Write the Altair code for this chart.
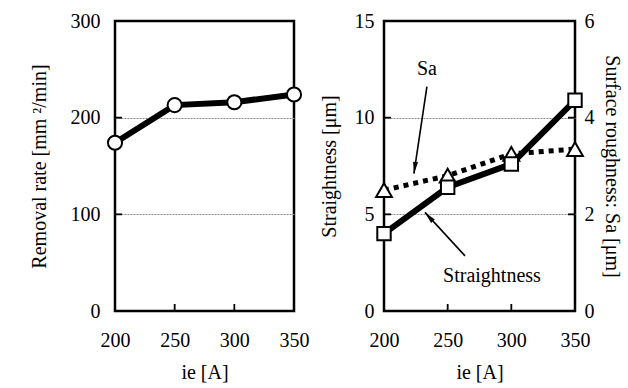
import altair as alt
import pandas as pd

# ---- data ----
ie = [200, 250, 300, 350]
removal_rate = [174, 213, 216, 224]
straightness = [4.0, 6.4, 7.6, 10.9]
sa = [2.5, 2.8, 3.25, 3.35]

ann_text = ["Sa", "Straightness"]
ann_x = [233.7, 284.8]
ann_y = [12.5, 1.8]

arrow_x = [233.7, 263.6]
arrow_y = [11.6, 2.85]
arrow_x2 = [223.5, 232.2]
arrow_y2 = [7.1, 5.1]
arrow_angle = [188, 318]

# inner (inward) tick positions
x_inner_ticks = [250, 300]
rate_inner_ticks = [100, 200]
st_inner_ticks = [5, 10]
sa_inner_ticks = [2, 4]

FONT = "Liberation Serif"
ARROW = "M0,0L0.34,1.6L-0.34,1.6Z"
TICK = 7
W_L, W_R, H = 179, 191, 290

grid_op = {"condition": {"test": "datum.value == 0 || datum.value == 300 || datum.value == 15", "value": 0}, "value": 1}

xscale = alt.Scale(domain=[200, 350], nice=False, zero=False)


def xaxis():
    return alt.Axis(values=ie, title="ie [A]", grid=False, tickSize=0, labelPadding=19,
                    titlePadding=12, domain=False, labelFlush=False)


def xticks():
    d = pd.DataFrame({"v": x_inner_ticks})
    return alt.Chart(d).mark_rule(color="black", strokeWidth=1.8).encode(
        x=alt.X("v:Q", scale=xscale), y=alt.value(H), y2=alt.value(H - TICK))


def yticks(vals, scale, side, width):
    d = pd.DataFrame({"v": vals})
    if side == "left":
        xs = dict(x=alt.value(0), x2=alt.value(TICK))
    else:
        xs = dict(x=alt.value(width), x2=alt.value(width - TICK))
    return alt.Chart(d).mark_rule(color="black", strokeWidth=1.8).encode(
        y=alt.Y("v:Q", scale=scale), **xs)


# ---- left panel ----
df_l = pd.DataFrame({"ie": ie, "rate": removal_rate})
yrate = alt.Scale(domain=[0, 300], nice=False)
base_l = alt.Chart(df_l).encode(
    x=alt.X("ie:Q", scale=xscale, axis=xaxis()),
    y=alt.Y("rate:Q", scale=yrate,
            axis=alt.Axis(values=[0, 100, 200, 300], title="Removal rate  [mm ²/min]",
                          grid=True, gridDash=[2, 1], gridColor="#8a8a8a", gridWidth=1.2,
                          gridOpacity=grid_op, tickSize=0, domain=False, labelFlush=False,
                          labelPadding=15, titlePadding=21)),
)
left = alt.layer(
    base_l.mark_line(color="black", strokeWidth=6),
    xticks(),
    yticks(rate_inner_ticks, yrate, "left", W_L),
    base_l.mark_point(shape="circle", size=200, filled=True, fill="white", stroke="black",
                      strokeWidth=2, opacity=1),
).properties(width=W_L, height=H)

# ---- right panel ----
df_r = pd.DataFrame({"ie": ie, "st": straightness, "sa": sa})
df_ann = pd.DataFrame({"x": ann_x, "y": ann_y, "t": ann_text})
df_arr = pd.DataFrame({"x": arrow_x, "y": arrow_y, "x2": arrow_x2, "y2": arrow_y2, "a": arrow_angle})

yst = alt.Scale(domain=[0, 15], nice=False)
ysa = alt.Scale(domain=[0, 6], nice=False)
base_s = alt.Chart(df_r).encode(
    x=alt.X("ie:Q", scale=xscale, axis=xaxis()),
    y=alt.Y("st:Q", scale=yst,
            axis=alt.Axis(orient="left", values=[0, 5, 10, 15], title="Straightness  [μm]",
                          grid=True, gridDash=[2, 1], gridColor="#8a8a8a", gridWidth=1.2,
                          gridOpacity=grid_op, tickSize=0, domain=False, labelFlush=False,
                          labelPadding=10, titlePadding=15)),
)
ann = alt.Chart(df_ann).mark_text(font=FONT, fontSize=20, color="black").encode(
    x=alt.X("x:Q", scale=xscale), y=alt.Y("y:Q", scale=yst), text="t:N")
arrows = alt.Chart(df_arr).mark_rule(color="black", strokeWidth=1.6).encode(
    x=alt.X("x:Q", scale=xscale), y=alt.Y("y:Q", scale=yst), x2="x2:Q", y2="y2:Q")
heads = alt.Chart(df_arr).mark_point(shape=ARROW, filled=True, color="black", size=220,
                                     opacity=1).encode(
    x=alt.X("x2:Q", scale=xscale), y=alt.Y("y2:Q", scale=yst),
    angle=alt.Angle("a:Q", scale=None))

st_group = alt.layer(
    ann, arrows, heads, xticks(), yticks(st_inner_ticks, yst, "left", W_R),
    base_s.mark_line(color="black", strokeWidth=6),
    base_s.mark_point(shape="square", size=180, filled=True, fill="white", stroke="black",
                      strokeWidth=2, opacity=1),
)

base_sa = alt.Chart(df_r).encode(
    x=alt.X("ie:Q", scale=xscale, axis=xaxis()),
    y=alt.Y("sa:Q", scale=ysa,
            axis=alt.Axis(orient="right", values=[0, 2, 4, 6], title="Surface roughness: Sa  [μm]",
                          grid=False, tickSize=0, domain=False, labelFlush=False,
                          labelPadding=9, titlePadding=7)),
)
sa_group = alt.layer(
    yticks(sa_inner_ticks, ysa, "right", W_R),
    base_sa.mark_line(color="black", strokeWidth=5, strokeDash=[5, 5]),
    base_sa.mark_point(shape="triangle-up", size=250, filled=True, fill="white", stroke="black",
                       strokeWidth=2, opacity=1),
)

right = alt.layer(sa_group, st_group).resolve_scale(y="independent").properties(width=W_R, height=H)

chart = alt.hconcat(left, right, spacing=6).properties(
    padding={"left": 27, "top": 9, "right": 0, "bottom": 0}, background="white"
).configure_view(stroke="black", strokeWidth=2.5).configure_axis(
    labelFont=FONT, labelFontSize=20, labelColor="black",
    titleFont=FONT, titleFontSize=20, titleFontWeight="normal", titleColor="black",
)

chart.save("out.html", embed_options={"renderer": "svg", "actions": False})
